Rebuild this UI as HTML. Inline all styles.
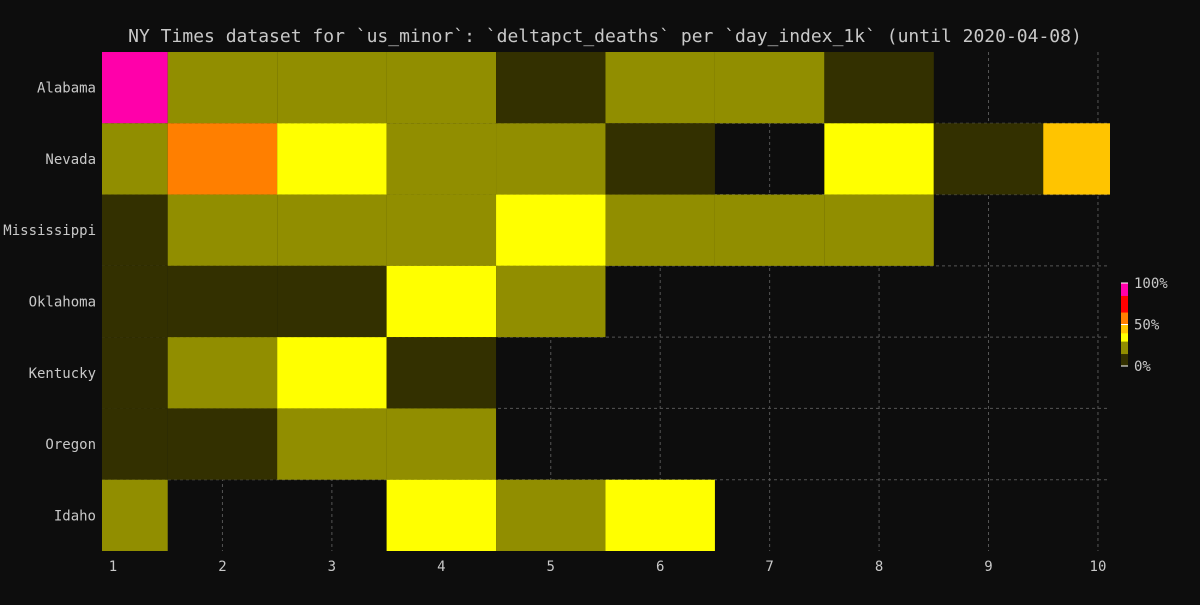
<!DOCTYPE html>
<html><head><meta charset="utf-8"><style>
html,body{margin:0;padding:0;background:#0d0d0d;}
svg text{font-family:"DejaVu Sans Mono","Liberation Mono",monospace;fill:#c8c8c8;}
</style></head><body>
<svg id="chart" width="1200" height="600" xmlns="http://www.w3.org/2000/svg">
<rect width="1200" height="600" fill="#0d0d0d"/>
<text x="605" y="42" font-size="18" text-anchor="middle">NY Times dataset for `us_minor`: `deltapct_deaths` per `day_index_1k` (until 2020-04-08)</text>
<g id="grid"></g>
<g id="cells"></g>
<g id="axes"></g>
<g id="legend"></g>
</svg>
<script>
const states = ["Alabama","Nevada","Mississippi","Oklahoma","Kentucky","Oregon","Idaho"];
const days = [1,2,3,4,5,6,7,8,9,10];
const values = [
 [100,20,20,20,10,20,20,10,null,null],
 [20,55,35,20,20,10,null,35,10,45],
 [10,20,20,20,35,20,20,20,null,null],
 [10,10,10,35,20,null,null,null,null,null],
 [10,20,35,10,null,null,null,null,null,null],
 [10,10,20,20,null,null,null,null,null,null],
 [20,null,null,35,20,35,null,null,null,null]
];
const legendTicks = ["0%","50%","100%"];
const NS="http://www.w3.org/2000/svg";
const L=102,R=1110,T=52,B=551;
const x=d=>113+(d-1)*109.44;
const rowH=(B-T)/states.length;
const y=i=>T+i*rowH;
function color(v){
  if(v<15) return "#333000";
  if(v<30) return "#918e00";
  if(v<40) return "#ffff00";
  if(v<50) return "#ffc400";
  if(v<65) return "#ff7f00";
  if(v<85) return "#ff0000";
  return "#ff00aa";
}
function mk(tag,attrs,parent){const e=document.createElementNS(NS,tag);for(const k in attrs)e.setAttribute(k,attrs[k]);parent.appendChild(e);return e;}
const grid=document.getElementById('grid');
days.forEach(d=>{const l=mk('line',{x1:x(d),x2:x(d),y1:T,y2:B,stroke:'#555','stroke-dasharray':'3,3'},grid);

});
for(let i=1;i<states.length;i++){const l=mk('line',{x1:L,x2:R,y1:y(i),y2:y(i),stroke:'#555','stroke-dasharray':'3,3'},grid);

}
const cells=document.getElementById('cells');
values.forEach((row,i)=>row.forEach((v,j)=>{
  if(v===null) return;
  const x0=Math.max(L,x(days[j]-0.5)), x1=Math.min(R,x(days[j]+0.5));
  const r=mk('rect',{x:x0,y:y(i),width:x1-x0,height:rowH,fill:color(v)},cells);
  
  
}));
const axes=document.getElementById('axes');
days.forEach(d=>{const t=mk('text',{x:x(d),y:571,'font-size':14,'text-anchor':'middle'},axes);t.textContent=d;

});
states.forEach((s,i)=>{const t=mk('text',{x:96,y:y(i)+rowH/2+5,'font-size':14,'text-anchor':'end'},axes);t.textContent=s;

});
const lg=document.getElementById('legend');
const lt=283,lb=366,lx=1121,lw=7;
const N=40;
for(let k=0;k<N;k++){const v=(k+0.5)/N*100;
 const r=mk('rect',{x:lx,y:lb-(k+1)*(lb-lt)/N,width:lw,height:(lb-lt)/N+0.5,fill:color(v)},lg);
 
 }
legendTicks.forEach((s,k)=>{const yy=lb-k*(lb-lt)/2;
 const l=mk('line',{x1:lx,x2:lx+lw,y1:yy,y2:yy,stroke:'#fff'},lg);
 
 
 const t=mk('text',{x:1134,y:yy+5,'font-size':14},lg);t.textContent=s;
 
 });
</script>
</body></html>
